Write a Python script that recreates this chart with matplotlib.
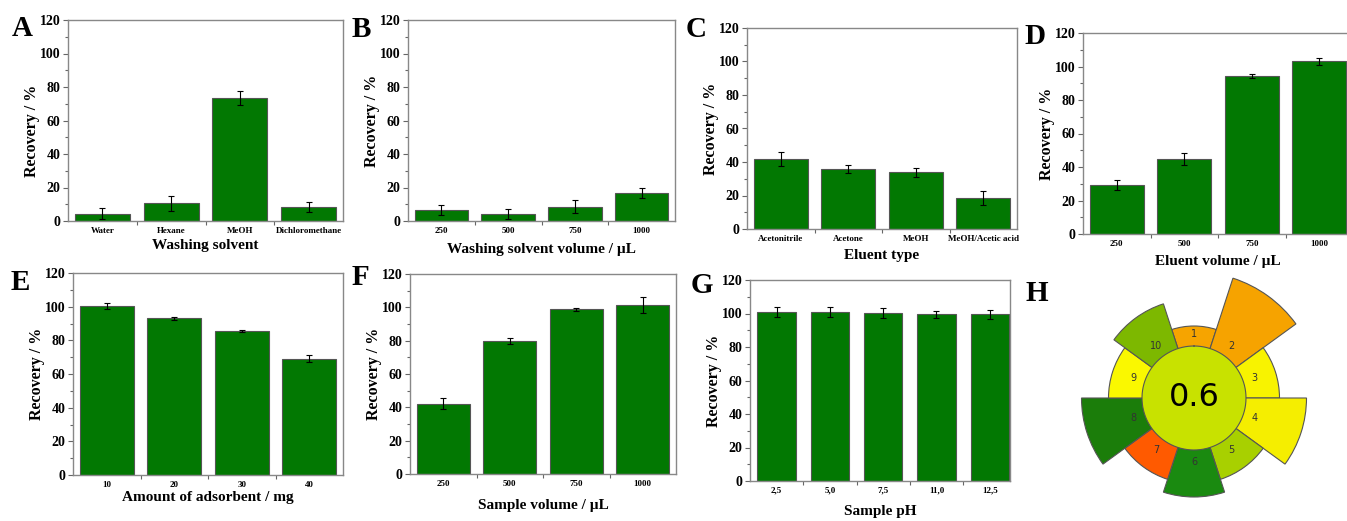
import numpy as np
import matplotlib.pyplot as plt

plt.rcParams['font.family'] = ['Liberation Serif', 'DejaVu Serif']
plt.rcParams['font.weight'] = 'bold'

# ---- datos ----
washing_solvents = ['Water', 'Hexane', 'MeOH', 'Dichloromethane']
washing_recovery = [4.4, 10.5, 73.4, 8.6]
washing_err = [3.5, 4.4, 4.0, 3.0]

wash_volumes = ['250', '500', '750', '1000']
wash_vol_recovery = [6.6, 4.0, 8.6, 16.7]
wash_vol_err = [2.8, 3.0, 4.1, 2.8]

eluents = ['Acetonitrile', 'Acetone', 'MeOH', 'MeOH/Acetic acid']
eluent_recovery = [41.7, 35.9, 33.8, 18.5]
eluent_err = [4.0, 2.6, 2.7, 4.1]

eluent_volumes = ['250', '500', '750', '1000']
eluent_vol_recovery = [29.4, 44.6, 94.5, 103.0]
eluent_vol_err = [3.0, 3.7, 1.2, 2.0]

adsorbent_mg = ['10', '20', '30', '40']
adsorbent_recovery = [100.5, 93.0, 85.3, 69.2]
adsorbent_err = [1.6, 1.0, 0.6, 2.2]

sample_volumes = ['250', '500', '750', '1000']
sample_vol_recovery = [42.3, 79.9, 98.8, 101.4]
sample_vol_err = [3.2, 2.0, 1.0, 4.6]

sample_ph = ['2,5', '5,0', '7,5', '11,0', '12,5']
ph_recovery = [100.7, 100.7, 100.3, 99.5, 99.5]
ph_err = [3.0, 3.0, 3.2, 2.0, 2.6]

# AGREEprep
criteria = ['1', '2', '3', '4', '5', '6', '7', '8', '9', '10']
criteria_weights = [1, 5, 2, 4, 2, 3, 2, 4, 2, 3]
criteria_colors = ['#f6a400', '#f6a300', '#f8f300', '#f5ee00', '#a8d000',
                   '#1a8a10', '#ff5a00', '#1b7d0a', '#faf800', '#7db800']
overall_score = 0.6
score_color = '#c8e200'

W, H = 1347, 521
fig = plt.figure(figsize=(W / 100, H / 100), dpi=100)


def px_axes(left, top, right, bottom, **kw):
    return fig.add_axes([left / W, 1 - bottom / H, (right - left) / W, (bottom - top) / H], **kw)


def panel(box, cats, vals, errs, xlabel, xlab_off, ylab_y=0.5, width=0.8, xmax=None):
    ax = px_axes(*box)
    x = np.arange(1, len(cats) + 1)
    ax.bar(x, vals, width=width, color='#027802', edgecolor='#555555', linewidth=0.8, zorder=2)
    ax.errorbar(x, vals, yerr=errs, fmt='none', ecolor='black', elinewidth=0.8,
                capsize=2, capthick=0.8, zorder=3)
    ax.set_ylim(0, 120)
    ax.set_xlim(0.5, xmax if xmax else len(cats) + 0.5)
    ax.set_yticks(np.arange(0, 121, 20))
    ax.set_yticks(np.arange(0, 121, 10), minor=True)
    ax.set_xticks(x)
    ax.set_xticklabels(cats, fontsize=6.5, fontweight='bold')
    ax.set_xticks(x[:-1] + 0.5, minor=True)
    ax.tick_params(axis='x', which='major', length=0, pad=4)
    ax.tick_params(axis='x', which='minor', length=3, width=0.8, direction='out', color='#666666')
    ax.tick_params(axis='y', which='major', length=3.5, width=0.8, labelsize=10, pad=2, color='#666666')
    ax.tick_params(axis='y', which='minor', length=2, width=0.8, color='#666666')
    for lab in ax.get_yticklabels():
        lab.set_fontweight('bold')
    for s in ax.spines.values():
        s.set_color('#888888')
        s.set_linewidth(1.0)
    hpx = box[3] - box[1]
    wpx = box[2] - box[0]
    ax.set_xlabel(xlabel, fontsize=11, fontweight='bold')
    ax.xaxis.set_label_coords(0.5, -(xlab_off - 7.5) / hpx)
    ax.set_ylabel('Recovery / %', fontsize=11.5, fontweight='bold')
    ax.yaxis.set_label_coords(-(36 - 8) / wpx, ylab_y)
    return ax


panel((68, 20, 343, 221), washing_solvents, washing_recovery, washing_err,
      'Washing solvent', 25, ylab_y=0.45)
panel((408, 20, 675, 221), wash_volumes, wash_vol_recovery, wash_vol_err,
      'Washing solvent volume / µL', 30)
panel((747, 28, 1017, 229), eluents, eluent_recovery, eluent_err,
      'Eluent type', 27)
panel((1083, 33, 1353, 234), eluent_volumes, eluent_vol_recovery, eluent_vol_err,
      'Eluent volume / µL', 28)
panel((73, 273, 343, 475), adsorbent_mg, adsorbent_recovery, adsorbent_err,
      'Amount of adsorbent / mg', 23)
panel((410, 274, 676, 474), sample_volumes, sample_vol_recovery, sample_vol_err,
      'Sample volume / µL', 33)
panel((750, 280, 1010, 481), sample_ph, ph_recovery, ph_err,
      'Sample pH', 31, width=0.72, xmax=5.38)

# ---- H: pictograma AGREEprep ----
axh = px_axes(1064, 268, 1324, 528, projection='polar')
axh.set_theta_zero_location('N')
axh.set_theta_direction(-1)
theta = np.deg2rad(np.arange(len(criteria)) * 36)
lengths = 58.5 + 13.5 * np.array(criteria_weights)
axh.bar(theta, lengths, width=np.deg2rad(36), bottom=0, color=criteria_colors,
        edgecolor='#555555', linewidth=0.8, zorder=2)
axh.bar(0, 52, width=2 * np.pi, bottom=0, color=score_color, edgecolor='none', zorder=3)
tt = np.linspace(0, 2 * np.pi, 300)
axh.plot(tt, np.full_like(tt, 52), color='#555555', lw=0.8, zorder=4)
for th, lab in zip(theta, criteria):
    axh.text(th, 64, lab, ha='center', va='center', fontsize=7,
             family='DejaVu Sans', fontweight='normal', color='#333333', zorder=5)
axh.text(0, 0, str(overall_score), ha='center', va='center', fontsize=23,
         family='DejaVu Sans', fontweight='normal', zorder=5)
axh.set_ylim(0, 130)
axh.axis('off')

# letras de los paneles
letters = [('A', 12, 15), ('B', 352, 16), ('C', 686, 16), ('D', 1024, 23),
           ('E', 11, 269), ('F', 352, 264), ('G', 691, 272), ('H', 1026, 280)]
for txt, lx, ly in letters:
    fig.text(lx / W, 1 - ly / H, txt, fontsize=21, fontweight='bold', va='top', ha='left')

fig.savefig('out.png', dpi=100)
